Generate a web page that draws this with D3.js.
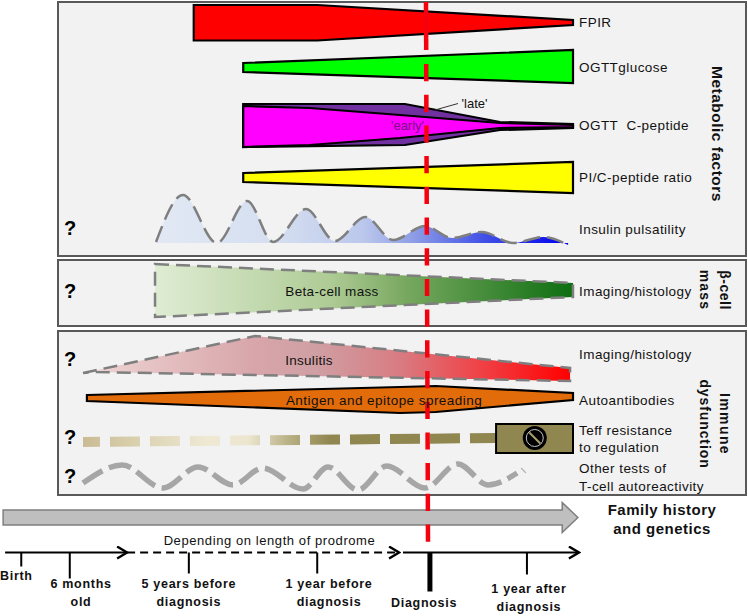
<!DOCTYPE html>
<html>
<head>
<meta charset="utf-8">
<style>
  html, body { margin: 0; padding: 0; background: #fff; }
  svg { display: block; }
  text { font-family: "Liberation Sans", Arial, sans-serif; }
</style>
<script src="https://cdn.jsdelivr.net/npm/d3@7"></script>
</head>
<body>
<div id="chart"></div>
<script>
// progress along the disease course: 0 = start of insulitis, 100 = right end of the bands
// magnitudes are band half widths
const fpirProgress = [22.6, 47.8, 100];
const fpirUpper = [35, 35, 5];
const fpirLower = [36, 36, 5];

const glucoseProgress = [32.7, 100];
const glucoseUpper = [8, 34];
const glucoseLower = [10, 32];

const lateProgress = [32.7, 65.7, 85.1, 100];
const lateUpper = [44, 44, 8, 4];
const lateLower = [42, 38, 8, 4];

const earlyProgress = [32.7, 46.3, 64.7, 85.1, 100];
const earlyUpper = [40, 36, 22, 6, 2];
const earlyLower = [42, 38, 24, 4, 2];

const ratioProgress = [32.7, 100];
const ratioUpper = [9, 31];
const ratioLower = [9, 31];

const pulseProgress = [14.9, 20.4, 27.3, 33.5, 38.8, 45.5, 51.4, 57.6, 63.3, 69.8, 75.3, 81.4, 87.8, 93.9, 99];
const pulseValues = [2, 96, 0, 84, 2, 68, 4, 52, 6, 34, 10, 22, 0, 12, -4];

const betaProgress = [14.7, 100];
const betaUpper = [53, 15];
const betaLower = [53, 13];

const insulitisProgress = [0, 2.4, 35.1, 99.4];
const insulitisUpper = [0, 5, 74, 10];
const insulitisLower = [0, -2, 4, 16];

const antigenProgress = [0.8, 64.7, 72, 100];
const antigenUpper = [9, 25, 27, 13];
const antigenLower = [3, 27, 25, 1];

const teffProgress = [0, 84.3];
const teffValues = [-4, 4];
const teffBoxProgress = [84.3, 100];
const teffBoxMarker = 92.2;

const waveProgress = [0, 8, 16.3, 23.5, 30.6, 36.7, 44.9, 50, 56.1, 62, 69.8, 76.5, 82.7, 88.6];
const waveValues = [-12, 24, -22, 20, -16, 18, -24, 20, -26, 22, -22, 26, -16, 8];
const waveTailProgress = [89.4, 90.4];
const waveTailValues = [18, 8];

const rowNames = ["fpir", "glucose", "cpeptide", "ratio", "pulse", "beta", "insulitis", "antigen", "teff", "wave"];
const rowCentres = [22.5, 67, 126, 177.5, 243, 290.5, 373, 399.5, 440, 477];

const metricLabels = ["FPIR", "OGTTglucose", "OGTT  C-peptide", "PI/C-peptide ratio", "Insulin pulsatility",
  "Imaging/histology", "Imaging/histology", "Autoantibodies", "Teff resistance", "to regulation",
  "Other tests of", "T-cell autoreactivity"];
const metricLabelY = [22, 67, 125, 177, 229, 291, 354, 400, 430, 447, 468, 486];

const unknownMarkY = [228, 291, 359, 437, 476];

const timelineTicks = [-12.6, -2.7, 21.6, 47.8, 70.8, 90.6];
const timelineTickLength = [28, 52, 42, 42, 78, 44];
const timelineTickWidth = [2, 2, 2, 2, 5, 2];
const timelineLabels = [["Birth"], ["6 months", "old"], ["5 years before", "diagnosis"], ["1 year before", "diagnosis"], ["Diagnosis"], ["1 year after", "diagnosis"]];
const timelineLabelProgress = [-13.6, -0.4, 21.6, 50.2, 69.6, 91];
const timelineLabelY = [576, 584, 584, 584, 603, 589];

const width = 748, height = 616;
const timelineY = 552.5;

const x = d3.scaleLinear().domain([0, 100]).range([83, 573]);
const mag = d3.scaleLinear().domain([0, 100]).range([0, 50]);
const row = d3.scaleOrdinal().domain(rowNames).range(rowCentres);

const svg = d3.select("#chart").append("svg")
  .attr("width", width)
  .attr("height", height);

const defs = svg.append("defs");

function gradient(id, progress0, progress1, stops) {
  const g = defs.append("linearGradient")
    .attr("id", id)
    .attr("gradientUnits", "userSpaceOnUse")
    .attr("x1", x(progress0)).attr("x2", x(progress1))
    .attr("y1", 0).attr("y2", 0);
  stops.forEach(s => g.append("stop").attr("offset", s[0]).attr("stop-color", s[1]));
}

gradient("pulseFill", 14.9, 99, [[0, "#e2e9f4"], [0.3, "#d4def0"], [0.5, "#bcc8ec"], [0.62, "#8f9fe6"], [0.8, "#3f4fe6"], [1, "#0000ee"]]);
gradient("betaFill", 14.7, 100, [[0, "#dfecd3"], [0.42, "#aecb95"], [0.6, "#78a860"], [1, "#0d6e10"]]);
gradient("insulitisFill", 0, 99.4, [[0, "#efd6d6"], [0.35, "#d8a6aa"], [0.48, "#cf9fa3"], [0.65, "#d87c82"], [0.82, "#f04045"], [1, "#ff0000"]]);
gradient("teffStroke", 0, 84.3, [[0, "#c9bb95"], [0.1, "#d6cca8"], [0.3, "#efe9d4"], [0.4, "#ece6d0"], [0.5, "#b8af83"], [0.6, "#8f8650"], [1, "#8f8650"]]);

// panels
const panels = [[58, 2, 746, 256], [58, 260, 746, 326], [58, 331, 746, 495]];
svg.selectAll(".panel")
  .data(panels)
  .enter()
  .append("rect")
  .attr("class", "panel")
  .attr("x", d => d[0])
  .attr("y", d => d[1])
  .attr("width", d => d[2] - d[0])
  .attr("height", d => d[3] - d[1])
  .attr("fill", "#f2f2f2")
  .attr("stroke", "#595959")
  .attr("stroke-width", 2);

function band(name, progress, upper, lower, fill, stroke, strokeWidth, dash) {
  const points = progress.map((p, i) => ({ p: p, up: upper[i], low: lower[i] }));
  const area = d3.area()
    .x(d => x(d.p))
    .y0(d => row(name) + mag(d.low))
    .y1(d => row(name) - mag(d.up));
  const path = svg.append("path")
    .datum(points)
    .attr("fill", fill)
    .attr("stroke", stroke)
    .attr("stroke-width", strokeWidth)
    .attr("d", area);
  if (dash) path.attr("stroke-dasharray", dash);
}

band("fpir", fpirProgress, fpirUpper, fpirLower, "#ff0000", "#000", 2.2);
band("glucose", glucoseProgress, glucoseUpper, glucoseLower, "#00ff00", "#000", 2.2);
band("cpeptide", lateProgress, lateUpper, lateLower, "#7030a0", "#000", 2.2);
band("cpeptide", earlyProgress, earlyUpper, earlyLower, "#ff00ff", "#000", 2.2);
band("ratio", ratioProgress, ratioUpper, ratioLower, "#ffff00", "#000", 2.2);
band("beta", betaProgress, betaUpper, betaLower, "url(#betaFill)", "#7f7f7f", 2.5, "14,7");
band("insulitis", insulitisProgress, insulitisUpper, insulitisLower, "url(#insulitisFill)", "#7f7f7f", 2.5, "14,7");

// insulin pulses
const pulsePoints = pulseProgress.map((p, i) => ({ p: p, v: pulseValues[i] }));
svg.append("path")
  .datum(pulsePoints)
  .attr("fill", "url(#pulseFill)")
  .attr("d", d3.area().curve(d3.curveMonotoneX)
    .x(d => x(d.p))
    .y0(row("pulse"))
    .y1(d => row("pulse") - mag(d.v)));
svg.append("path")
  .datum(pulsePoints)
  .attr("fill", "none")
  .attr("stroke", "#7f7f7f")
  .attr("stroke-width", 2.5)
  .attr("stroke-dasharray", "17,7")
  .attr("d", d3.line().curve(d3.curveMonotoneX)
    .x(d => x(d.p))
    .y(d => row("pulse") - mag(d.v)));

band("antigen", antigenProgress, antigenUpper, antigenLower, "#e36c0a", "#000", 2.2);

// Teff dashes and resistance box
svg.append("path")
  .datum(teffProgress.map((p, i) => ({ p: p, v: teffValues[i] })))
  .attr("fill", "none")
  .attr("stroke", "url(#teffStroke)")
  .attr("stroke-width", 10)
  .attr("stroke-dasharray", "30,10")
  .attr("stroke-dashoffset", 13)
  .attr("d", d3.line().x(d => x(d.p)).y(d => row("teff") - mag(d.v)));

svg.append("rect")
  .attr("x", x(teffBoxProgress[0]))
  .attr("y", row("teff") - mag(32))
  .attr("width", x(teffBoxProgress[1]) - x(teffBoxProgress[0]))
  .attr("height", mag(58))
  .attr("fill", "#8f8650")
  .attr("stroke", "#000")
  .attr("stroke-width", 2);

const noSign = svg.append("g")
  .attr("transform", `translate(${x(teffBoxMarker)},${row("teff") - mag(4)})`);
noSign.append("circle").attr("r", 12).attr("fill", "#000");
noSign.append("circle").attr("r", 8.5).attr("fill", "none").attr("stroke", "#c4c4c4").attr("stroke-width", 1);
noSign.append("line")
  .attr("x1", -5.5).attr("y1", -5.5).attr("x2", 5.5).attr("y2", 5.5)
  .attr("stroke", "#a89f70").attr("stroke-width", 2);

// wavy T-cell reactivity line
svg.append("path")
  .datum(waveProgress.map((p, i) => ({ p: p, v: waveValues[i] })))
  .attr("fill", "none")
  .attr("stroke", "#a6a6a6")
  .attr("stroke-width", 5.5)
  .attr("stroke-dasharray", "23,7")
  .attr("d", d3.line().curve(d3.curveMonotoneX)
    .x(d => x(d.p))
    .y(d => row("wave") - mag(d.v)));
svg.append("path")
  .datum(waveTailProgress.map((p, i) => ({ p: p, v: waveTailValues[i] })))
  .attr("fill", "none")
  .attr("stroke", "#b4b4b4")
  .attr("stroke-width", 1.2)
  .attr("d", d3.line().x(d => x(d.p)).y(d => row("wave") - mag(d.v)));

// family history arrow
const arrowProgress = [-16.3, 97.8, 101];
const arrowBody = 15, arrowHead = 30;
svg.append("path")
  .attr("fill", "#bfbfbf")
  .attr("stroke", "#7f7f7f")
  .attr("stroke-width", 1.5)
  .attr("d", d3.line()([
    [x(arrowProgress[0]), 517.5 - arrowBody / 2],
    [x(arrowProgress[1]), 517.5 - arrowBody / 2],
    [x(arrowProgress[1]), 517.5 - arrowHead / 2],
    [x(arrowProgress[2]), 517.5],
    [x(arrowProgress[1]), 517.5 + arrowHead / 2],
    [x(arrowProgress[1]), 517.5 + arrowBody / 2],
    [x(arrowProgress[0]), 517.5 + arrowBody / 2]
  ]) + "Z");

// diagnosis line, red dashes over everything so far
svg.append("line")
  .attr("x1", 426).attr("x2", 426.2)
  .attr("y1", 2).attr("y2", 50)
  .attr("stroke", "#f5000f").attr("stroke-width", 4.5);
svg.append("line")
  .attr("x1", 426.2).attr("x2", 428)
  .attr("y1", 64).attr("y2", 543)
  .attr("stroke", "#f5000f").attr("stroke-width", 4.5)
  .attr("stroke-dasharray", "17.2,13.5");

// timeline
defs.append("marker")
  .attr("id", "openHead")
  .attr("viewBox", "0 0 14 14")
  .attr("refX", 12).attr("refY", 7)
  .attr("markerWidth", 14).attr("markerHeight", 14)
  .attr("markerUnits", "userSpaceOnUse")
  .attr("orient", "auto")
  .append("path")
  .attr("d", "M2,1 L12,7 L2,13")
  .attr("fill", "none")
  .attr("stroke", "#000")
  .attr("stroke-width", 2.4);

const segments = [[-15.9, 9, null], [9, 64.5, "8,5"], [65.3, 101.2, null]];
svg.selectAll(".segment")
  .data(segments)
  .enter()
  .append("line")
  .attr("class", "segment")
  .attr("x1", d => x(d[0]))
  .attr("x2", d => x(d[1]))
  .attr("y1", timelineY)
  .attr("y2", timelineY)
  .attr("stroke", "#000")
  .attr("stroke-width", 2)
  .attr("stroke-dasharray", d => d[2])
  .attr("marker-end", "url(#openHead)");

svg.selectAll(".tick")
  .data(timelineTicks)
  .enter()
  .append("line")
  .attr("class", "tick")
  .attr("x1", d => x(d))
  .attr("x2", d => x(d))
  .attr("y1", timelineY)
  .attr("y2", (d, i) => timelineY + mag(timelineTickLength[i]))
  .attr("stroke", "#000")
  .attr("stroke-width", (d, i) => timelineTickWidth[i]);

// text
svg.selectAll(".metric")
  .data(metricLabels)
  .enter()
  .append("text")
  .attr("class", "metric")
  .attr("x", 579)
  .attr("y", (d, i) => metricLabelY[i])
  .attr("dy", "0.35em")
  .style("white-space", "pre")
  .attr("font-size", 13.5)
  .attr("letter-spacing", 0.45)
  .attr("fill", "#111")
  .text(d => d);

svg.selectAll(".unknown")
  .data(unknownMarkY)
  .enter()
  .append("text")
  .attr("class", "unknown")
  .attr("x", 70)
  .attr("y", d => d)
  .attr("dy", "0.36em")
  .attr("text-anchor", "middle")
  .attr("font-size", 20)
  .attr("font-weight", "bold")
  .text("?");

function centred(label, px, py, size, opts) {
  const o = opts || {};
  svg.append("text")
    .attr("x", px)
    .attr("y", py)
    .attr("dy", "0.35em")
    .attr("text-anchor", "middle")
    .attr("font-size", size)
    .attr("font-weight", o.weight || "normal")
    .attr("letter-spacing", o.spacing || 0)
    .attr("fill", o.fill || "#111")
    .attr("transform", o.rotate ? `rotate(90,${px},${py})` : null)
    .text(label);
}

centred("Beta-cell mass", 332, 291, 13.5, { spacing: 0.35 });
centred("Insulitis", 309, 360, 13.5, { spacing: 0.3 });
centred("Antigen and epitope spreading", 384, 400, 13.5, { spacing: 0.45 });
centred("'early'", 407.5, 125, 13, { fill: "#7a1088" });
centred("'late'", 474.5, 103, 13);

svg.append("line")
  .attr("x1", 435).attr("y1", 110)
  .attr("x2", 458).attr("y2", 103.5)
  .attr("stroke", "#333").attr("stroke-width", 1);

centred("Metabolic factors", 717, 134, 15.5, { weight: "bold", rotate: true, spacing: 0.5 });
centred("β-cell", 725, 290, 14, { weight: "bold", rotate: true, spacing: 0.5 });
centred("mass", 705, 290, 14, { weight: "bold", rotate: true, spacing: 1.2 });
centred("Immune", 725, 424, 14, { weight: "bold", rotate: true, spacing: 1.4 });
centred("dysfunction", 705, 424, 14, { weight: "bold", rotate: true, spacing: 0.9 });

centred("Family history", 662, 510, 15, { weight: "bold", spacing: 0.5 });
centred("and genetics", 662, 529, 15, { weight: "bold", spacing: 0.5 });
centred("Depending on length of prodrome", 269.5, 540, 13, { spacing: 0.58 });

timelineLabels.forEach((lines, i) => {
  lines.forEach((line, j) => {
    centred(line, x(timelineLabelProgress[i]), timelineLabelY[i] + j * 17.5, 12.5, { weight: "bold", spacing: 0.7 });
  });
});
</script>
</body>
</html>
